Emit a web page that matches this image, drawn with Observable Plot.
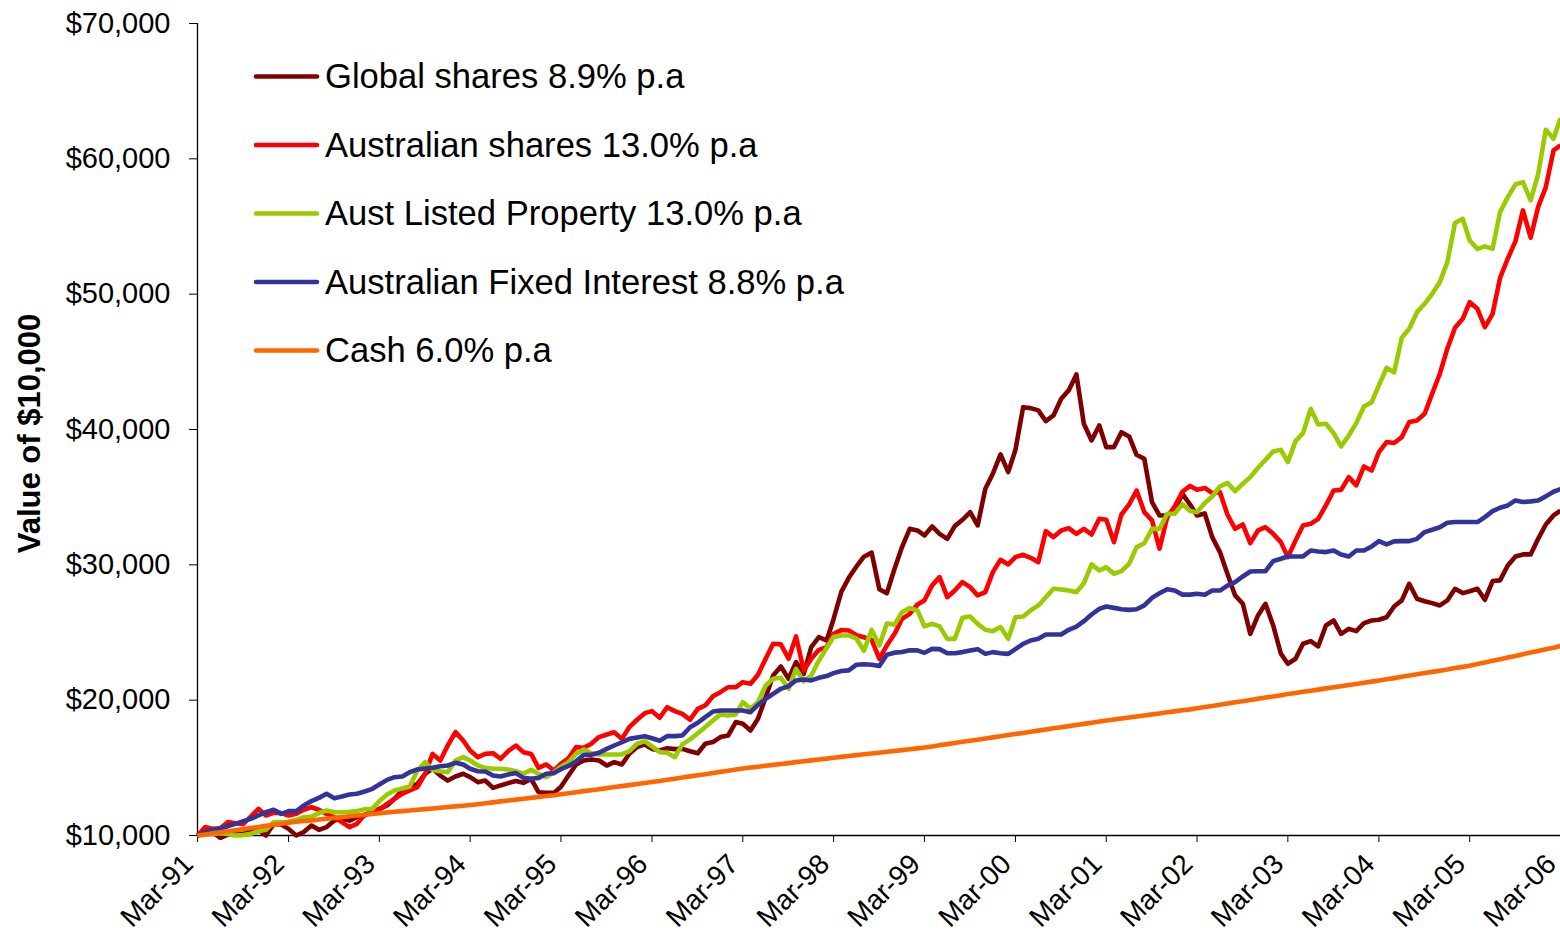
<!DOCTYPE html>
<html>
<head>
<meta charset="utf-8">
<script src="https://cdn.jsdelivr.net/npm/d3@7"></script>
<script src="https://cdn.jsdelivr.net/npm/@observablehq/plot@0.6"></script>
<style>
  html, body { margin: 0; padding: 0; background: #fff; overflow: hidden; }
  #wrap { position: relative; width: 1560px; height: 937px; }
  #wrap svg { display: block; }
  #legend { position: absolute; left: 0; top: 0; pointer-events: none; }
</style>
</head>
<body>
<div id="wrap"></div>
<script>
// Series names and colours
const seriesNames = [
  "Global shares 8.9% p.a",
  "Australian shares 13.0% p.a",
  "Aust Listed Property 13.0% p.a",
  "Australian Fixed Interest 8.8% p.a",
  "Cash 6.0% p.a"
];
const seriesColors = ["#800000", "#ff0000", "#99cc00", "#333399", "#ff6600"];

// Monthly observations, Mar-91 .. Mar-06 (181 months)
const globalShares = [
  10000,10170,10250,9830,10070,10070,10120,10320,10420,10000,10860,10810,
  10490,10000,10250,10740,10420,10620,11100,11230,11100,11350,11480,11720,
  11970,12220,12710,13330,13570,13820,14560,14930,14430,14060,14360,14560,
  14310,13940,14060,13520,13700,13870,14020,13890,14190,13200,13150,13150,
  13600,14450,15250,15540,15620,15540,15170,15420,15250,16040,16530,16730,
  16400,16280,16450,16380,16400,16230,16080,16780,16900,17270,17390,18380,
  18250,17760,18620,20220,21820,22490,21580,22810,21950,23920,24660,24410,
  26000,28000,29040,29880,30600,30900,28200,27900,29710,31310,32660,32540,
  32170,32840,32290,31920,32860,33330,33890,32910,35620,36730,38160,36850,
  38500,41650,41580,41410,40620,41040,42270,42890,44070,40420,39190,40300,
  38700,38700,39800,39490,38130,37840,34630,33650,33650,34020,35250,34450,
  33650,33800,32050,30940,29340,27740,27120,24900,26260,27120,25520,23430,
  22690,23060,24170,24360,23970,25520,25890,24900,25270,25100,25690,25890,
  25940,26130,26920,27370,28600,27490,27310,27170,27000,27370,28230,27910,
  28050,28230,27420,28800,28850,29950,30620,30770,30770,31920,32980,33650,
  34000
];
const australianShares = [
  10000,10620,10490,10540,10990,10910,10860,11400,11970,11480,11680,11650,
  11480,11600,11900,12090,11900,11600,11350,10990,10620,10860,11550,11720,
  11900,12340,12710,13080,13330,13570,14560,16030,15540,16650,17640,17020,
  16280,15790,16030,16080,15670,16230,16650,16160,16030,15000,15250,14800,
  15300,15720,16530,16480,16780,17270,17460,17630,17140,18010,18550,19040,
  19190,18700,19480,19190,18990,18550,19360,19610,20290,20590,20960,20960,
  21330,21210,21880,23060,24170,24120,23060,24710,22190,23060,23720,23920,
  24900,25180,25150,24800,24650,24450,23060,24040,24900,26010,26380,27070,
  27370,28480,29090,27610,28100,28720,28350,27740,27980,29460,30370,30030,
  30570,30740,30520,30200,32490,32050,32540,32710,32290,32660,32240,33400,
  33330,31680,33720,34460,35490,33890,33280,31190,33520,34310,35400,35830,
  35550,35680,35300,35370,33720,32660,32980,31600,32540,32780,32290,31680,
  30570,31800,32910,33030,33400,34390,35490,35540,36480,35870,37270,36970,
  38330,39070,39000,39440,40550,40670,41160,42640,44120,45970,47520,48180,
  49410,48920,47570,48550,51200,52620,53920,56190,54170,56430,57910,60620,
  61000
];
const listedProperty = [
  10000,10070,10120,10170,10120,10000,10030,10120,10320,10420,10990,10990,
  11010,11160,11350,11400,11650,11850,11720,11720,11750,11800,11950,11970,
  12540,13030,13330,13470,13620,14800,15420,14850,14750,14680,15540,15790,
  15540,15170,15000,14930,14930,14880,14750,14560,14850,14560,14310,14680,
  15080,15420,16040,16360,16080,15990,15990,15990,15990,16230,16780,16970,
  16580,16160,16110,15790,16730,17100,17560,18010,18500,18950,18870,18950,
  19860,19360,19860,21090,21580,21650,20840,22310,21400,21820,22930,23860,
  24660,24780,24780,24540,23650,25190,24040,25660,25580,26500,26810,26630,
  25460,25640,25450,24530,24530,26090,26180,25640,25200,25100,25400,24530,
  26130,26180,26630,27000,27610,28230,28180,28100,27980,28640,30030,29580,
  29830,29340,29530,30080,31310,31600,32660,32660,33770,33770,34490,33980,
  33890,34570,35050,35790,36060,35440,35990,36480,37170,37760,38380,38500,
  37590,39140,39730,41530,40370,40420,39730,38750,39560,40470,41700,42020,
  43260,44560,44220,46780,47440,48670,49290,50030,50890,52370,55250,55570,
  53970,53350,53530,53350,56060,57170,58110,58280,56930,58850,62150,61490,
  63000
];
const fixedInterest = [
  10000,10250,10420,10540,10690,10860,11060,11230,11480,11720,11900,11600,
  11800,11800,12220,12540,12780,13080,12760,12880,13030,13080,13250,13450,
  13770,14110,14310,14360,14680,14880,14950,15000,15120,15170,15370,15250,
  14930,14750,14730,14430,14360,14500,14610,14260,14190,14260,14560,14610,
  14900,15140,15480,15970,15960,16110,16400,16650,16890,17140,17240,17340,
  17190,17000,17340,17340,17390,18000,18330,18750,19160,19240,19240,19240,
  19240,19110,19660,20100,20470,20840,21040,21460,21530,21460,21650,21780,
  22000,22150,22200,22620,22650,22620,22520,23360,23510,23560,23680,23680,
  23500,23790,23770,23470,23470,23550,23670,23770,23420,23550,23470,23420,
  23770,24160,24410,24530,24850,24850,24850,25200,25440,25840,26330,26750,
  26920,26820,26720,26670,26720,27000,27560,27900,28200,28100,27800,27800,
  27860,27790,28100,28100,28470,28720,29140,29510,29530,29530,30270,30450,
  30620,30620,30620,31060,30990,30940,31060,30770,30620,31060,31060,31360,
  31750,31510,31730,31750,31750,31920,32420,32590,32780,33110,33160,33160,
  33160,33160,33530,33970,34220,34390,34760,34640,34690,34760,35060,35400,
  35600
];
const cash = [
  10000,10080,10160,10240,10310,10390,10470,10550,10630,10710,10790,10870,
  10950,11010,11070,11120,11180,11240,11300,11360,11420,11480,11530,11590,
  11650,11700,11750,11800,11850,11900,11950,12000,12050,12100,12150,12200,
  12250,12310,12380,12450,12520,12580,12650,12720,12780,12850,12920,12980,
  13050,13120,13200,13280,13350,13420,13500,13580,13650,13720,13800,13880,
  13950,14030,14120,14200,14280,14370,14450,14530,14620,14700,14780,14870,
  14950,15020,15080,15150,15220,15280,15350,15420,15480,15550,15620,15680,
  15750,15810,15870,15940,16000,16060,16120,16190,16250,16310,16370,16440,
  16500,16580,16670,16750,16830,16920,17000,17080,17170,17250,17330,17420,
  17500,17580,17670,17750,17830,17920,18000,18080,18170,18250,18330,18420,
  18500,18570,18650,18720,18800,18870,18950,19020,19100,19170,19250,19320,
  19400,19490,19570,19660,19750,19840,19920,20010,20100,20190,20270,20360,
  20450,20530,20620,20700,20780,20870,20950,21030,21120,21200,21280,21370,
  21450,21540,21630,21730,21820,21910,22000,22090,22180,22270,22370,22460,
  22550,22670,22790,22910,23030,23150,23270,23400,23520,23640,23760,23880,
  24000
];

// Category axis: months Mar-91 .. Mar-06, labelled every March
const months = d3.utcMonth.range(new Date(Date.UTC(1991, 2, 1)), new Date(Date.UTC(2006, 3, 1)));
const xTickLabels = ["Mar-91","Mar-92","Mar-93","Mar-94","Mar-95","Mar-96","Mar-97","Mar-98",
                     "Mar-99","Mar-00","Mar-01","Mar-02","Mar-03","Mar-04","Mar-05","Mar-06"];
const yTicks = [10000, 20000, 30000, 40000, 50000, 60000, 70000];
const yTitle = "Value of $10,000";

const seriesValues = [globalShares, australianShares, listedProperty, fixedInterest, cash];
const rows = [];
seriesValues.forEach((vals, s) => vals.forEach((v, i) => rows.push({series: seriesNames[s], date: months[i], value: v})));
const tickDates = xTickLabels.map((_, k) => months[k * 12]);
const fmtMoney = d => "$" + d3.format(",")(d);
const fmtMonth = d => xTickLabels[tickDates.findIndex(t => +t === +d)];

const W = 1560, H = 937, ML = 197, MT = 23, MB = 102;

const chart = Plot.plot({
  width: W, height: H,
  marginLeft: ML, marginRight: 0, marginTop: MT, marginBottom: MB,
  style: {fontFamily: "'Liberation Sans', Arial, sans-serif", background: "#fff", color: "#000", overflow: "visible"},
  x: {type: "utc", domain: [months[0], months[months.length - 1]]},
  y: {domain: [10000, 70000]},
  color: {domain: seriesNames, range: seriesColors},
  marks: [
    Plot.axisY({ticks: yTicks, tickFormat: fmtMoney, tickSize: 8, tickPadding: 19, fontSize: 29, label: null, stroke: "#000"}),
    // tick marks only
    Plot.axisX({ticks: tickDates, tickFormat: () => "", tickSize: 7, label: null, stroke: "#000"}),
    // rotated labels only
    Plot.axisX({ticks: tickDates, tickFormat: fmtMonth, tickSize: 0, tickPadding: 24,
                tickRotate: -45, fontSize: 28, label: null, dx: -9}),
    Plot.text([yTitle], {frameAnchor: "left", textAnchor: "middle", dx: -167, dy: 4, rotate: -90,
                         fontSize: 31, fontWeight: "bold", fill: "#000"}),
    Plot.ruleX([months[0]], {stroke: "#000", strokeWidth: 1.3}),
    Plot.ruleY([10000], {stroke: "#000", strokeWidth: 1.3}),
    Plot.line(rows, {x: "date", y: "value", z: "series", stroke: "series", strokeWidth: 4.6,
                     strokeLinejoin: "round", strokeLinecap: "butt"})
  ]
});

const wrap = document.getElementById("wrap");
wrap.appendChild(chart);

// Legend overlay inside the plot area
const leg = d3.select(wrap).append("svg")
  .attr("id", "legend").attr("width", W).attr("height", H)
  .style("font-family", "'Liberation Sans', Arial, sans-serif");
seriesNames.forEach((name, k) => {
  const cy = 76.5 + 68.5 * k;
  leg.append("line").attr("x1", 256).attr("x2", 317).attr("y1", cy).attr("y2", cy)
    .attr("stroke", seriesColors[k]).attr("stroke-width", 4.5).attr("stroke-linecap", "round");
  leg.append("text").attr("x", 325).attr("y", cy + 11.5)
    .attr("font-size", 34.6).attr("fill", "#000").text(name);
});
</script>
</body>
</html>
